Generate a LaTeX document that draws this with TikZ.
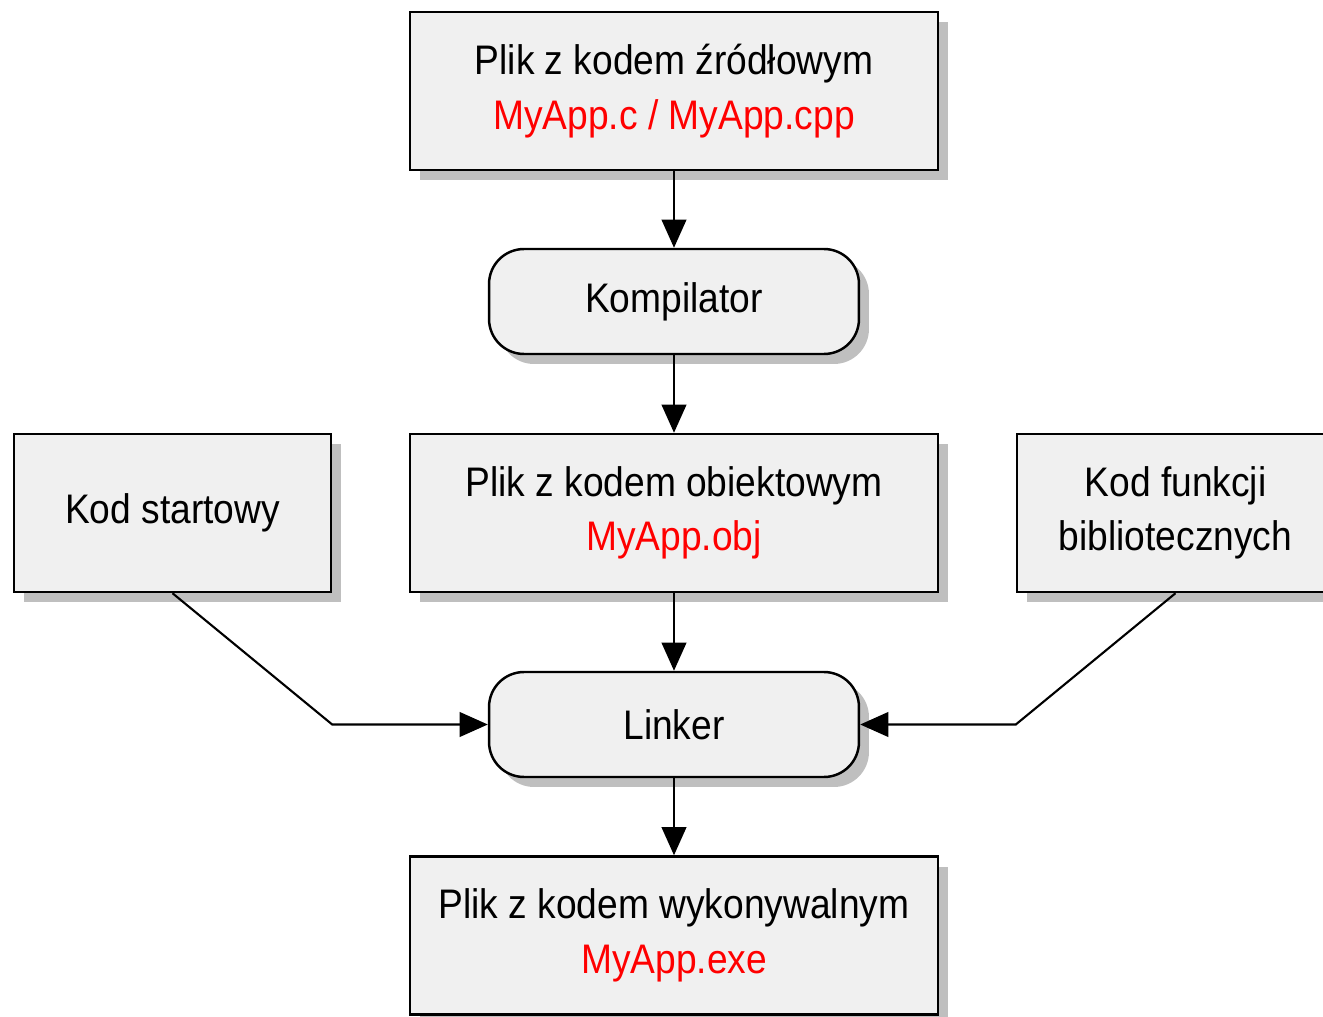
\documentclass[tikz,border=0pt]{standalone}
\usepackage{fontspec}
\setmainfont{Liberation Sans}[FakeStretch=0.9]
\usetikzlibrary{arrows.meta,shadows}

\begin{document}
\begin{tikzpicture}[
    x=0.02cm, y=-0.02cm,
    every node/.style={font=\fontsize{23.5}{31}\selectfont},
    filebox/.style={rectangle, draw, line width=1.4pt, fill=black!6, align=center,
        minimum height=3.16cm, drop shadow={shadow xshift=0.2cm, shadow yshift=-0.2cm, fill=black!25, opacity=1}},
    toolbox/.style={rectangle, rounded corners=0.7cm, draw, line width=1.4pt, fill=black!6, align=center,
        minimum width=7.4cm, minimum height=2.1cm, drop shadow={shadow xshift=0.2cm, shadow yshift=-0.2cm, fill=black!25, opacity=1}},
    flow/.style={line width=1.2pt, -{Triangle[length=16pt,width=14pt]}}
]
    \useasboundingbox (0,0) rectangle (1323,1017);

    % Zrodlo
    \node[filebox, minimum width=10.56cm] (src) at (674,91) {Plik z kodem źródłowym\\\textcolor{red}{MyApp.c / MyApp.cpp}};

    % Kompilator
    \node[toolbox] (comp) at (674,301.5) {Kompilator};

    % Obiekt
    \node[filebox, minimum width=10.56cm] (obj) at (674,513) {Plik z kodem obiektowym\\\textcolor{red}{MyApp.obj}};
    \node[filebox, minimum width=6.34cm] (start) at (172.5,513) {Kod startowy};
    \node[filebox, minimum width=6.34cm] (lib) at (1175.5,513) {Kod funkcji\\bibliotecznych};

    % Linker
    \node[toolbox] (link) at (674,724.5) {Linker};

    % Wynik
    \node[filebox, minimum width=10.56cm] (exe) at (674,935.5) {Plik z kodem wykonywalnym\\\textcolor{red}{MyApp.exe}};

    \draw[flow] (src) -- (comp);
    \draw[flow] (comp) -- (obj);
    \draw[flow] (obj) -- (link);
    \draw[flow] (link) -- (exe);
    \draw[flow] (start.south) -- (start.east |- link.west) -- (link.west);
    \draw[flow] (lib.south) -- (lib.west |- link.east) -- (link.east);
\end{tikzpicture}
\end{document}
